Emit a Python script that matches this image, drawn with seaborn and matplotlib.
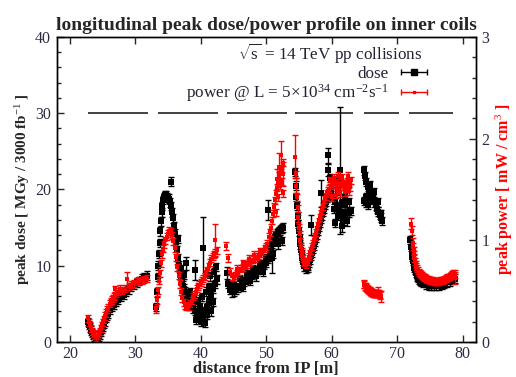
import matplotlib
matplotlib.use('Agg')
import matplotlib.pyplot as plt
import pandas as pd
import seaborn as sns
from matplotlib.lines import Line2D
from matplotlib.legend_handler import HandlerLine2D, HandlerTuple
from matplotlib.ticker import MultipleLocator

# dose [MGy / 3000 fb-1], typical error bar and the points with larger errors
dose_x = [22.8, 23.1, 23.4, 23.7, 24.0, 24.3, 24.6, 24.9, 25.2, 25.5, 25.8, 26.1, 26.4, 26.7,
          27.0, 27.4, 27.8, 28.2, 28.6, 29.0, 29.4, 29.8, 30.2, 30.6, 31.0, 31.4, 31.8,
          33.1, 33.4, 33.6, 33.8, 34.0, 34.3, 34.6, 34.9, 35.2, 35.5, 35.8, 36.1, 36.4, 36.7,
          37.0, 37.3, 37.6, 37.9, 38.2, 38.5, 38.8, 39.1, 39.4, 39.7, 40.0, 40.3, 40.6, 40.9,
          41.2, 41.5, 41.8, 42.1, 42.4,
          39.0, 39.6, 40.2, 40.8, 41.4, 42.0, 40.0, 40.6, 41.6, 37.0, 36.5,
          44.2, 44.5, 44.8, 45.1, 45.4, 45.7, 46.0, 46.3, 46.6, 46.9, 47.2, 47.5, 47.8, 48.1,
          48.4, 48.7, 49.0, 49.3, 49.6, 49.9, 50.2, 50.5, 50.8, 51.1, 51.4, 51.7, 52.0, 52.3, 52.6,
          54.4, 54.6, 54.8, 55.0, 55.2, 55.4, 55.6, 55.8, 56.0, 56.3, 56.6, 56.9, 57.2, 57.5,
          57.8, 58.1, 58.4, 58.7, 59.0, 59.3, 59.6, 59.9, 60.2, 60.5, 60.8, 61.1, 61.4, 61.7,
          62.0, 62.3, 62.6, 62.9,
          60.8, 62.0, 60.5, 62.3, 61.0, 59.8,
          64.9, 65.1, 65.3, 65.5, 65.7, 65.0, 65.3, 65.6, 65.9, 66.1, 66.3, 66.5, 66.7, 66.9,
          67.1, 67.3, 67.5, 67.7,
          72.0, 72.2, 72.4, 72.6, 72.8, 73.1, 73.4, 73.7, 74.0, 74.4, 74.8, 75.2, 75.6, 76.0,
          76.4, 76.8, 77.2, 77.6, 78.0, 78.4, 78.8]
dose_y = [2.6, 1.9, 1.2, 0.7, 0.4, 0.5, 1.0, 1.7, 2.4, 3.1, 3.7, 4.2, 4.6, 4.9,
          5.2, 5.5, 5.9, 6.2, 6.6, 6.9, 7.2, 7.5, 7.8, 8.0, 8.3, 8.5, 8.7,
          4.6, 8.5, 11.5, 14.5, 17.0, 18.6, 19.3, 19.0, 18.8, 17.8, 16.2, 14.2, 12.0, 10.0,
          8.5, 7.4, 6.6, 5.9, 5.3, 4.8, 4.4, 4.1, 3.9, 3.7, 3.5, 3.6, 4.0, 4.6,
          5.4, 6.2, 7.0, 7.6, 8.2,
          5.6, 5.3, 5.9, 6.6, 8.6, 9.2, 2.6, 2.5, 4.0, 9.6, 13.5,
          7.6, 6.8, 6.5, 6.6, 6.9, 7.1, 7.4, 7.6, 7.9, 8.1, 8.4, 8.6, 8.8, 9.0,
          9.2, 9.4, 9.6, 9.8, 10.1, 10.4, 10.9, 11.6, 12.5, 13.2, 13.8, 14.2, 14.5, 14.8, 15.0,
          22.3, 19.0, 16.5, 14.5, 12.8, 11.5, 10.5, 9.9, 9.6, 9.7, 10.4, 11.3, 12.2, 13.1,
          14.1, 15.1, 16.1, 17.1, 18.0, 18.9, 19.5, 19.6, 19.0, 18.3, 17.8, 17.4, 17.1, 16.9,
          16.8, 16.9, 17.0, 17.2,
          21.0, 19.0, 15.6, 15.8, 19.8, 21.5,
          22.5, 21.8, 21.0, 20.3, 19.8, 18.5, 18.2, 18.0, 19.4, 19.0, 18.7, 18.3, 17.9, 17.5,
          17.1, 16.7, 16.3, 15.9,
          13.4, 11.8, 10.6, 9.7, 9.1, 8.6, 8.2, 7.9, 7.7, 7.5, 7.4, 7.3, 7.3, 7.4,
          7.4, 7.5, 7.6, 7.8, 7.9, 8.1, 8.3]
# more dose points read along the steep and the thick parts of the band
dose_fill_x = [22.95, 23.25, 23.55, 24.45, 24.75, 25.05, 25.35, 25.65,
               33.25, 33.5, 33.7, 33.9, 34.15, 34.45, 34.75, 35.05, 35.35,
               35.65, 35.95, 36.25, 36.55, 36.85, 37.15, 37.45, 37.75, 38.05,
               38.3, 38.9, 39.3, 39.9, 40.4, 41.0, 41.2, 41.9, 42.3, 37.5,
               50.35, 50.65, 50.95, 51.25, 51.55, 51.85, 52.15, 52.45, 51.0, 51.8, 52.4,
               45.0, 46.0, 47.0, 48.0, 49.0, 50.0, 46.5, 47.5, 48.5, 49.5,
               54.5, 54.7, 54.9, 55.1, 55.3, 55.5, 55.7,
               56.45, 56.75, 57.05, 57.35, 57.65, 57.95, 58.25, 58.55, 58.85, 59.15, 59.45,
               60.3, 60.9, 61.5, 62.1, 62.7, 61.8,
               65.2, 65.8, 66.4, 67.0, 67.6,
               72.1, 72.3, 72.5, 72.7, 72.95, 73.25, 73.55]
dose_fill_y = [2.2, 1.5, 0.9, 0.7, 1.3, 2.0, 2.7, 3.4,
               6.5, 10.0, 13.0, 15.8, 17.8, 19.0, 19.3, 18.9, 18.3,
               17.0, 15.2, 13.1, 11.0, 9.2, 7.9, 7.0, 6.2, 5.6,
               6.5, 5.8, 2.9, 4.6, 3.0, 3.5, 7.2, 5.2, 9.8, 8.8,
               11.2, 12.0, 12.9, 13.5, 14.0, 14.4, 14.6, 14.9, 11.5, 12.8, 13.2,
               7.5, 8.2, 8.9, 9.6, 10.2, 11.0, 7.2, 8.0, 8.6, 9.2,
               20.5, 17.8, 15.5, 13.6, 12.1, 11.0, 10.2,
               10.0, 10.8, 11.7, 12.6, 13.6, 14.6, 15.6, 16.6, 17.5, 18.4, 19.2,
               17.5, 16.5, 18.2, 18.0, 18.3, 15.9,
               19.0, 20.6, 19.6, 18.3, 16.8,
               12.5, 11.2, 10.1, 9.4, 8.8, 8.4, 8.0]
dose_err_typ = 0.55
dose_out_x = [35.5, 37.8, 39.1, 40.4, 44.0, 50.2, 50.9, 56.9, 58.3, 59.5, 59.4, 61.2, 61.6]
dose_out_y = [21.0, 10.3, 9.4, 12.3, 9.0, 17.3, 11.0, 15.3, 19.5, 24.5, 22.5, 22.5, 15.2]
dose_out_err = [0.6, 0.8, 1.3, 4.1, 0.8, 1.3, 2.0, 1.3, 1.8, 1.0, 0.8, 8.3, 0.8]

# power [mW / cm3]
power_x = [22.8, 23.1, 23.4, 23.7, 24.0, 24.3, 24.6, 24.9, 25.2, 25.5, 25.8, 26.1, 26.4, 26.7,
           27.0, 27.4, 27.7, 28.0, 28.4, 29.0, 29.4, 29.8, 30.2, 30.6, 31.0, 31.4, 31.8,
           33.1, 33.5, 33.8, 34.1, 34.4, 34.8, 35.2, 35.6, 36.0, 36.4, 36.8, 37.2, 37.6, 38.0,
           38.4, 38.8, 39.2, 39.6, 40.0, 40.4, 40.8, 41.2, 41.6, 42.0, 42.4,
           44.4, 44.7, 45.0, 45.3, 45.6, 45.9, 46.2, 46.5, 46.8, 47.1, 47.4, 47.7, 48.0, 48.3,
           48.6, 48.9, 49.2, 49.5, 49.8, 50.1, 50.4, 50.7, 51.0, 51.3, 51.5, 51.6, 51.8, 51.9,
           52.1, 52.2, 52.4, 52.5, 52.6,
           54.8, 55.0, 55.2, 55.4, 55.6, 55.8, 56.0, 56.3, 56.6, 56.9, 57.2, 57.5, 57.8, 58.1,
           58.4, 58.7, 59.0, 59.3, 59.6, 59.9, 60.2, 60.5, 60.8, 61.1, 61.4, 61.7, 62.0, 62.3,
           62.6, 62.9, 60.0, 60.7, 61.3, 62.0, 62.7, 61.0,
           65.1, 65.3, 65.5, 65.7, 65.9, 66.1, 66.3, 66.5, 66.7, 66.9, 67.3,
           72.5, 72.6, 72.8, 73.0, 73.3, 73.6, 73.9, 74.2, 74.6, 75.0, 75.4, 75.8, 76.2, 76.6,
           77.0, 77.4, 77.8, 78.2, 78.6]
power_y = [0.233, 0.165, 0.105, 0.068, 0.045, 0.060, 0.105, 0.165, 0.225, 0.285, 0.338, 0.375,
           0.413, 0.443, 0.473, 0.495, 0.525, 0.510, 0.525, 0.548, 0.563, 0.578, 0.593, 0.600,
           0.608, 0.615, 0.623,
           0.323, 0.510, 0.675, 0.863, 0.960, 1.035, 1.095, 1.050, 0.923, 0.735, 0.570, 0.428,
           0.360, 0.345, 0.375, 0.443, 0.495, 0.548, 0.585, 0.623, 0.675, 0.743, 0.818, 0.863,
           0.900,
           0.690, 0.645, 0.638, 0.653, 0.675, 0.698, 0.720, 0.735, 0.750, 0.765, 0.780, 0.795,
           0.810, 0.825, 0.840, 0.855, 0.870, 0.893, 0.923, 0.968, 1.035, 1.125, 1.260, 1.395,
           1.275, 1.515, 1.425, 1.635, 1.538, 1.688, 1.575, 1.763, 1.463,
           1.313, 1.125, 0.990, 0.885, 0.818, 0.780, 0.765, 0.788, 0.840, 0.900, 0.968, 1.035,
           1.110, 1.185, 1.260, 1.335, 1.403, 1.463, 1.508, 1.538, 1.560, 1.553, 1.538, 1.545,
           1.568, 1.530, 1.553, 1.575, 1.560, 1.590, 1.425, 1.448, 1.463, 1.470, 1.485, 1.635,
           0.548, 0.533, 0.518, 0.510, 0.495, 0.488, 0.480, 0.480, 0.473, 0.473, 0.465,
           0.900, 0.825, 0.765, 0.720, 0.683, 0.660, 0.645, 0.630, 0.615, 0.608, 0.600, 0.593,
           0.593, 0.600, 0.608, 0.623, 0.638, 0.653, 0.668]
power_fill_x = [22.95, 23.25, 23.55, 24.45, 24.75, 25.05, 25.35, 25.65, 26.25, 26.55, 26.85,
                33.3, 33.65, 33.95, 34.25, 34.6, 35.0, 35.4,
                35.8, 36.2, 36.6, 37.0, 37.4, 37.8, 38.2, 38.6, 39.0,
                39.4, 39.8, 40.2, 40.6, 41.0, 41.4, 41.8, 42.2,
                45.5, 46.4, 47.3, 48.2, 49.1, 50.0, 50.55, 50.85, 51.15, 51.45, 51.75, 52.05, 52.35,
                54.5, 54.7, 54.9, 55.1, 55.3, 55.5, 55.7,
                56.45, 56.75, 57.05, 57.35, 57.65, 57.95, 58.25, 58.55, 58.85, 59.15, 59.45,
                59.75, 60.35, 60.95, 61.55, 62.15, 62.45, 62.85,
                65.0, 65.2, 65.4, 65.6, 65.8, 66.0, 66.2, 66.4, 66.6, 66.8, 67.0, 67.2, 67.4,
                72.45, 72.55, 72.7, 72.9, 73.15, 73.45, 73.75, 74.05, 74.4, 74.8,
                75.2, 75.6, 76.0, 76.4, 76.8, 77.2, 77.6, 78.0, 78.4, 78.8]
power_fill_y = [0.195, 0.135, 0.083, 0.083, 0.135, 0.195, 0.255, 0.315, 0.398, 0.428, 0.458,
                0.413, 0.600, 0.773, 0.915, 0.998, 1.065, 1.088,
                0.990, 0.833, 0.653, 0.495, 0.390, 0.345, 0.353, 0.405, 0.465,
                0.525, 0.563, 0.600, 0.645, 0.705, 0.780, 0.840, 0.878,
                0.720, 0.773, 0.818, 0.855, 0.893, 0.938, 1.080, 1.193, 1.328, 1.455, 1.575, 1.650, 1.710,
                1.650, 1.425, 1.215, 1.058, 0.938, 0.848, 0.795,
                0.795, 0.870, 0.938, 1.005, 1.073, 1.148, 1.223, 1.298, 1.365, 1.433, 1.485,
                1.590, 1.613, 1.500, 1.620, 1.515, 1.635, 1.523,
                0.563, 0.540, 0.525, 0.514, 0.503, 0.491, 0.484, 0.480, 0.476, 0.473, 0.480, 0.473, 0.458,
                0.938, 0.863, 0.795, 0.743, 0.701, 0.671, 0.653, 0.638, 0.623, 0.611,
                0.604, 0.596, 0.593, 0.596, 0.604, 0.615, 0.630, 0.645, 0.660, 0.668]
power_err_typ = 0.035
power_out_x = [26.9, 28.7, 42.1, 43.9, 44.1, 51.7, 52.0, 52.3, 52.5, 54.4, 54.6, 64.9, 67.1,
               67.5, 72.1, 72.3, 72.4, 78.9]
power_out_y = [0.525, 0.615, 0.998, 0.945, 0.825, 1.600, 1.725, 1.838, 1.650, 1.823, 1.538,
               0.570, 0.495, 0.450, 1.163, 1.095, 0.975, 0.630]
power_out_err = [0.030, 0.075, 0.158, 0.038, 0.038, 0.100, 0.135, 0.135, 0.120, 0.210, 0.075,
                 0.038, 0.045, 0.053, 0.053, 0.045, 0.045, 0.060]

# magnet segments drawn as bars at dose = 30
magnet_start = [22.7, 33.5, 44.0, 54.4, 64.9, 71.8]
magnet_end = [31.9, 42.7, 53.2, 63.3, 70.2, 78.6]
magnet_level = [30] * len(magnet_start)

n_dose = len(dose_x) + len(dose_fill_x)
dose = pd.DataFrame({'z': dose_x + dose_fill_x + dose_out_x,
                     'dose': dose_y + dose_fill_y + dose_out_y,
                     'err': [dose_err_typ] * n_dose + dose_out_err})
n_power = len(power_x) + len(power_fill_x)
power = pd.DataFrame({'z': power_x + power_fill_x + power_out_x,
                      'power': power_y + power_fill_y + power_out_y,
                      'err': [power_err_typ] * n_power + power_out_err})

sns.set_style('ticks')
plt.rcParams['font.family'] = ['Liberation Serif', 'DejaVu Serif']
plt.rcParams['mathtext.fontset'] = 'custom'
plt.rcParams['mathtext.rm'] = 'Liberation Serif'
plt.rcParams['mathtext.it'] = 'Liberation Serif:italic'
plt.rcParams['mathtext.bf'] = 'Liberation Serif:bold'

tick_col = '#2b2d45'

fig, ax = plt.subplots(figsize=(5.16, 3.77), dpi=100)
fig.subplots_adjust(left=0.110, right=0.922, top=0.902, bottom=0.093)
ax2 = ax.twinx()

ax.hlines(magnet_level, magnet_start, magnet_end, color='#222222', lw=1.2, zorder=1)

ax.errorbar(dose['z'], dose['dose'], yerr=dose['err'], fmt='none', ecolor='black',
            elinewidth=1.0, capsize=2.4, capthick=1.0, zorder=2)
sns.scatterplot(data=dose, x='z', y='dose', ax=ax, marker='s', color='black',
                s=22, linewidth=0, zorder=3)

ax2.errorbar(power['z'], power['power'], yerr=power['err'], fmt='none', ecolor='#ff0000',
             elinewidth=1.0, capsize=2.2, capthick=1.0, zorder=2)
sns.scatterplot(data=power, x='z', y='power', ax=ax2, marker='s', color='#ff0000',
                s=9, linewidth=0, zorder=3)

ax.set_xlim(18, 82)
ax.set_ylim(0, 40)
ax2.set_ylim(0, 3)
ax.xaxis.set_major_locator(MultipleLocator(10))
ax.yaxis.set_major_locator(MultipleLocator(10))
ax.yaxis.set_minor_locator(MultipleLocator(2))
ax2.yaxis.set_major_locator(MultipleLocator(1))
ax2.yaxis.set_minor_locator(MultipleLocator(0.2))

ax.tick_params(axis='x', which='major', direction='in', top=True, length=5, width=1,
               labelsize=11.5, labelcolor=tick_col, pad=3)
ax.tick_params(axis='y', which='major', direction='in', length=5, width=1,
               labelsize=11.5, labelcolor=tick_col, pad=4)
ax.tick_params(axis='y', which='minor', direction='in', length=3, width=1)
ax2.tick_params(axis='y', which='major', direction='in', length=5, width=1,
                labelsize=11.5, labelcolor=tick_col, pad=4)
ax2.tick_params(axis='y', which='minor', direction='in', length=3, width=1)

for a in (ax, ax2):
    for sp in a.spines.values():
        sp.set_linewidth(1.0)
        sp.set_color('black')

ax.set_xlabel('distance from IP [m]', fontsize=12, fontweight='bold', labelpad=-1)
ax.set_ylabel(r'peak dose [ MGy / 3000 fb$^{-1}$ ]', fontsize=11, fontweight='bold',
              labelpad=2)
ax2.set_ylabel(r'peak power [ mW / cm$^{3}$ ]', fontsize=11.5, fontweight='bold',
               color='#ff0000', labelpad=3)
ax.set_title('longitudinal peak dose/power profile on inner coils', fontsize=14,
             fontweight='bold', pad=5)

ax.text(0.872, 0.945, r'$\sqrt{\rm s}$ = 14 TeV pp collisions', transform=ax.transAxes,
        ha='right', va='center', fontsize=12.3, color='#222233')

dose_caps = Line2D([], [], color='black', lw=1.0, marker='|', markersize=5, mew=1.0)
dose_sq = Line2D([], [], color='black', lw=0, marker='s', markersize=4.5)
power_caps = Line2D([], [], color='#ff0000', lw=1.0, marker='|', markersize=5, mew=1.0)
power_pt = Line2D([], [], color='#ff0000', lw=0, marker='s', markersize=1.5)
ax.legend([(dose_caps, dose_sq), (power_caps, power_pt)],
          ['dose', r'power @ L = 5$\times$10$^{34}$ cm$^{-2}$s$^{-1}$'],
          handler_map={dose_caps: HandlerLine2D(numpoints=2),
                       power_caps: HandlerLine2D(numpoints=2),
                       dose_sq: HandlerLine2D(numpoints=1),
                       power_pt: HandlerLine2D(numpoints=1),
                       tuple: HandlerTuple(ndivide=1)},
          loc='upper right', bbox_to_anchor=(0.895, 0.905), frameon=False,
          markerfirst=False, fontsize=12.3, handlelength=2.1, handletextpad=0.4,
          borderpad=0, borderaxespad=0, labelspacing=0.0, labelcolor='#222233')

fig.savefig('out.png', dpi=100)
